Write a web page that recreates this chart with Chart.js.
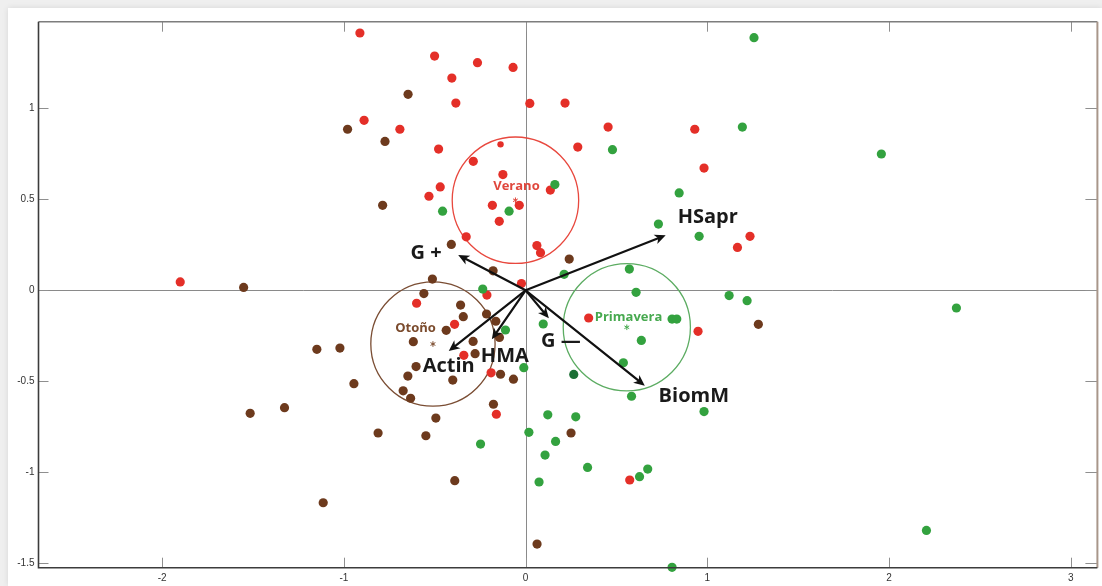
<!DOCTYPE html>
<html>
<head>
<meta charset="utf-8">
<script src="https://cdn.jsdelivr.net/npm/chart.js@4.4.1/dist/chart.umd.min.js"></script>
<style>
  html, body { margin: 0; padding: 0; background: #efefef; width: 1102px; height: 586px; overflow: hidden; }
  #card { position: absolute; left: 8px; top: 8px; width: 1094px; height: 578px; background: #ffffff;
          box-shadow: 0 0 6px rgba(0, 0, 0, 0.10); }
  canvas { display: block; }
</style>
</head>
<body>
<div id="card"><canvas id="biplot" width="1094" height="578"></canvas></div>
<script>
// Sample scores on the first two axes, one list per season
const veranoPoints = [
  [-0.912, 1.414], [-0.889, 0.934], [-0.692, 0.885], [-0.501, 1.287], [-0.265, 1.251],
  [-0.069, 1.225], [-0.406, 1.166], [-0.384, 1.029], [0.023, 1.027], [0.217, 1.029],
  [0.454, 0.897], [0.931, 0.885], [-0.479, 0.776], [0.287, 0.787], [0.982, 0.672],
  [-0.288, 0.709], [-0.125, 0.636], [0.136, 0.551], [-0.470, 0.568], [-0.532, 0.517],
  [-0.183, 0.467], [-0.035, 0.467], [-0.145, 0.379], [1.235, 0.297], [1.166, 0.236],
  [-0.327, 0.294], [0.062, 0.246], [0.082, 0.207], [-0.023, 0.037], [-1.901, 0.046],
  [-0.213, -0.026], [-0.600, -0.071], [-0.391, -0.187], [0.347, -0.152], [0.949, -0.225],
  [-0.340, -0.357], [-0.190, -0.453], [-0.161, -0.681], [0.573, -1.042]
];
const veranoFaint = [[-0.138, 0.802]];

const primaveraPoints = [
  [1.257, 1.388], [1.193, 0.897], [0.478, 0.773], [1.958, 0.749], [0.161, 0.581],
  [0.845, 0.535], [-0.457, 0.435], [-0.091, 0.435], [0.731, 0.364], [0.955, 0.297],
  [0.571, 0.117], [0.212, 0.088], [-0.236, 0.007], [0.608, -0.011], [1.120, -0.029],
  [1.219, -0.057], [2.371, -0.097], [0.097, -0.185], [-0.111, -0.218], [0.806, -0.158],
  [0.832, -0.158], [0.637, -0.275], [0.538, -0.398], [-0.010, -0.425], [0.583, -0.582],
  [0.982, -0.666], [0.122, -0.684], [0.276, -0.695], [0.018, -0.780], [0.165, -0.830],
  [-0.248, -0.845], [0.107, -0.905], [0.341, -0.973], [0.672, -0.982], [0.627, -1.024],
  [0.074, -1.053], [2.206, -1.319], [0.806, -1.522]
];
const primaveraDark = [[0.265, -0.462]];

const otonoPoints = [
  [-0.980, 0.885], [-0.774, 0.818], [-0.787, 0.467], [-0.647, 1.077], [-1.552, 0.016],
  [-0.409, 0.252], [0.240, 0.172], [-0.179, 0.107], [-0.513, 0.062], [-0.560, -0.018],
  [-0.358, -0.081], [-0.343, -0.145], [-0.215, -0.130], [-0.164, -0.170], [-0.437, -0.220],
  [-0.144, -0.259], [-0.618, -0.282], [-0.289, -0.281], [-0.278, -0.348], [-0.603, -0.419],
  [-0.138, -0.461], [-0.648, -0.471], [-0.401, -0.493], [-0.067, -0.488], [-0.674, -0.552],
  [-0.633, -0.593], [-0.177, -0.626], [-0.494, -0.702], [-0.812, -0.784], [-0.549, -0.799],
  [0.250, -0.784], [-0.390, -1.046], [0.063, -1.394], [-1.149, -0.324], [-1.022, -0.317],
  [-0.945, -0.513], [-1.516, -0.676], [-1.327, -0.645], [-1.114, -1.167], [1.281, -0.187]
];

// Season centroids and the radius of the circle drawn round each
const groupNames   = ['Verano', 'Otoño', 'Primavera'];
const groupCenterX = [-0.056, -0.510, 0.557];
const groupCenterY = [0.495, -0.295, -0.203];
const groupRadius  = [0.348, 0.342, 0.350];

// Variable loadings drawn as arrows from the origin
const arrowNames = ['HSapr', 'G +', 'Actin', 'HMA', 'G —', 'BiomM'];
const arrowX = [0.771, -0.371, -0.423, -0.186, 0.128, 0.656];
const arrowY = [0.302, 0.194, -0.334, -0.269, -0.154, -0.524];

// Axis ticks
const xTickValues = [-2, -1, 0, 1, 2, 3];
const yTickValues = [-1.5, -1, -0.5, 0, 0.5, 1];
const xTickLabels = ['-2', '-1', '0', '1', '2', '3'];
const yTickLabels = ['-1.5', '-1', '-0.5', '0', '0.5', '1'];

// ---- styling ----
const colRed = '#e42f28', colGreen = '#33a23f', colDarkGreen = '#1c6f35', colBrown = '#6d3a1d';
const groupLineColors = ['#e8483e', '#7a4d33', '#5cac62'];
const groupTextColors = ['#e0473d', '#7b4b2d', '#47a94f'];
// label offsets in pixels relative to the circle centre: [dx, dy]
const groupLabelOffset = [[1, -13.5], [-17.4, -15.3], [1.7, -9.6]];
// arrow label placement relative to the arrow tip: [dx, dy, align]
const arrowLabelPlace = [[12, -18, 'left'], [-16.5, -1.5, 'right'], [0, 15, 'center'],
                         [13, 17.5, 'center'], [12, 23, 'center'], [49, 11, 'center']];

const toXY = arr => arr.map(p => ({ x: p[0], y: p[1] }));

const biplotDecor = {
  id: 'biplotDecor',
  beforeDatasetsDraw(chart) {
    const { ctx, chartArea: a, scales: { x, y } } = chart;
    ctx.save();
    // reference lines through the origin
    const x0 = Math.round(x.getPixelForValue(0)) + 0.5;
    const y0 = Math.round(y.getPixelForValue(0)) + 0.5;
    ctx.strokeStyle = '#8a8a8a';
    ctx.lineWidth = 1;
    ctx.beginPath();
    ctx.moveTo(x0, a.top); ctx.lineTo(x0, a.bottom);
    ctx.moveTo(a.left, y0); ctx.lineTo(a.right, y0);
    ctx.stroke();
    // season circles
    groupNames.forEach((name, i) => {
      const cx = x.getPixelForValue(groupCenterX[i]);
      const cy = y.getPixelForValue(groupCenterY[i]);
      const r = x.getPixelForValue(groupCenterX[i] + groupRadius[i]) - cx;
      ctx.strokeStyle = groupLineColors[i];
      ctx.lineWidth = 1.3;
      ctx.beginPath();
      ctx.arc(cx, cy, r, 0, Math.PI * 2);
      ctx.stroke();
    });
    ctx.restore();
  },
  afterDatasetsDraw(chart) {
    const { ctx, scales: { x, y } } = chart;
    ctx.save();
    // centroid markers and season names
    groupNames.forEach((name, i) => {
      const cx = x.getPixelForValue(groupCenterX[i]);
      const cy = y.getPixelForValue(groupCenterY[i]);
      ctx.strokeStyle = groupTextColors[i];
      ctx.lineWidth = 1;
      ctx.beginPath();
      for (let k = 0; k < 3; k++) {
        const ang = Math.PI / 2 + k * Math.PI / 3;
        ctx.moveTo(cx - 2.8 * Math.cos(ang), cy - 2.8 * Math.sin(ang));
        ctx.lineTo(cx + 2.8 * Math.cos(ang), cy + 2.8 * Math.sin(ang));
      }
      ctx.stroke();
      ctx.fillStyle = groupTextColors[i];
      ctx.font = 'bold 13px "Open Sans", sans-serif';
      ctx.textAlign = 'center';
      ctx.textBaseline = 'middle';
      ctx.fillText(name, cx + groupLabelOffset[i][0], cy + groupLabelOffset[i][1]);
    });
    // loading arrows
    const ox = x.getPixelForValue(0), oy = y.getPixelForValue(0);
    arrowNames.forEach((name, i) => {
      const tx = x.getPixelForValue(arrowX[i]);
      const ty = y.getPixelForValue(arrowY[i]);
      const ang = Math.atan2(ty - oy, tx - ox);
      const hl = 11, hw = 5;
      const bx = tx - hl * Math.cos(ang), by = ty - hl * Math.sin(ang);
      ctx.strokeStyle = '#111';
      ctx.lineWidth = 2.2;
      ctx.lineCap = 'round';
      ctx.beginPath();
      ctx.moveTo(ox, oy);
      ctx.lineTo(tx - 6 * Math.cos(ang), ty - 6 * Math.sin(ang));
      ctx.stroke();
      ctx.fillStyle = '#111';
      ctx.beginPath();
      ctx.moveTo(tx, ty);
      ctx.lineTo(bx + hw * Math.sin(ang), by - hw * Math.cos(ang));
      ctx.lineTo(tx - 8 * Math.cos(ang), ty - 8 * Math.sin(ang));
      ctx.lineTo(bx - hw * Math.sin(ang), by + hw * Math.cos(ang));
      ctx.closePath();
      ctx.fill();
      const pl = arrowLabelPlace[i];
      ctx.font = 'bold 20px "Open Sans", sans-serif';
      ctx.textAlign = pl[2];
      ctx.textBaseline = 'middle';
      ctx.fillStyle = '#1a1a1a';
      ctx.fillText(name, tx + pl[0], ty + pl[1]);
    });
    ctx.restore();
  },
  afterDraw(chart) {
    const { ctx, chartArea: a, scales: { x, y } } = chart;
    ctx.save();
    // inward tick marks on all four sides
    ctx.strokeStyle = '#8f8f8f';
    ctx.lineWidth = 1;
    ctx.beginPath();
    xTickValues.forEach(v => {
      const px = Math.round(x.getPixelForValue(v)) + 0.5;
      ctx.moveTo(px, a.bottom); ctx.lineTo(px, a.bottom - 10);
      ctx.moveTo(px, a.top); ctx.lineTo(px, a.top + 10);
    });
    yTickValues.forEach(v => {
      const py = Math.round(y.getPixelForValue(v)) + 0.5;
      ctx.moveTo(a.left, py); ctx.lineTo(a.left + 10, py);
      ctx.moveTo(a.right, py); ctx.lineTo(a.right - 12, py);
    });
    ctx.stroke();
    // plot frame
    ctx.lineWidth = 1.5;
    ctx.strokeStyle = '#7d7d7d';
    ctx.beginPath(); ctx.moveTo(a.left, a.top); ctx.lineTo(a.right, a.top); ctx.stroke();
    ctx.strokeStyle = '#a8968a';
    ctx.lineWidth = 2;
    ctx.beginPath(); ctx.moveTo(a.right, a.top); ctx.lineTo(a.right, a.bottom); ctx.stroke();
    ctx.strokeStyle = '#3c3c3c';
    ctx.lineWidth = 1.6;
    ctx.beginPath();
    ctx.moveTo(a.left, a.top); ctx.lineTo(a.left, a.bottom); ctx.lineTo(a.right, a.bottom);
    ctx.stroke();
    ctx.restore();
  }
};

const pointStyle = (color, r) => ({
  backgroundColor: color, borderColor: color, borderWidth: 0,
  pointRadius: r, pointHoverRadius: r, clip: false
});

new Chart(document.getElementById('biplot'), {
  type: 'scatter',
  data: {
    datasets: [
      { label: 'Otoño', data: toXY(otonoPoints), ...pointStyle(colBrown, 4.6) },
      { label: 'Primavera', data: toXY(primaveraPoints), ...pointStyle(colGreen, 4.6) },
      { label: 'Primavera', data: toXY(primaveraDark), ...pointStyle(colDarkGreen, 4.6) },
      { label: 'Verano', data: toXY(veranoPoints), ...pointStyle(colRed, 4.6) },
      { label: 'Verano', data: toXY(veranoFaint), ...pointStyle(colRed, 3.2) }
    ]
  },
  options: {
    responsive: false,
    animation: false,
    devicePixelRatio: 1,
    layout: { padding: { top: 13.7, right: 4.3, left: 0, bottom: 0 } },
    plugins: { legend: { display: false }, tooltip: { enabled: false } },
    scales: {
      x: {
        type: 'linear', position: 'bottom', min: -2.681, max: 3.147,
        grid: { display: false, drawTicks: false }, border: { display: false },
        afterBuildTicks: s => { s.ticks = xTickValues.map(v => ({ value: v })); },
        afterFit: s => { s.height = 18.3; },
        ticks: {
          padding: 5, color: '#333', font: { family: '"Liberation Sans", Arial, sans-serif', size: 10 },
          callback: v => xTickLabels[xTickValues.indexOf(v)]
        }
      },
      y: {
        type: 'linear', min: -1.524, max: 1.476,
        grid: { display: false, drawTicks: false }, border: { display: false },
        afterBuildTicks: s => { s.ticks = yTickValues.map(v => ({ value: v })); },
        afterFit: s => { s.width = 30.5; },
        ticks: {
          padding: 4, color: '#333', font: { family: '"Liberation Sans", Arial, sans-serif', size: 10 },
          callback: v => yTickLabels[yTickValues.indexOf(v)]
        }
      }
    }
  },
  plugins: [biplotDecor]
});
</script>
</body>
</html>
